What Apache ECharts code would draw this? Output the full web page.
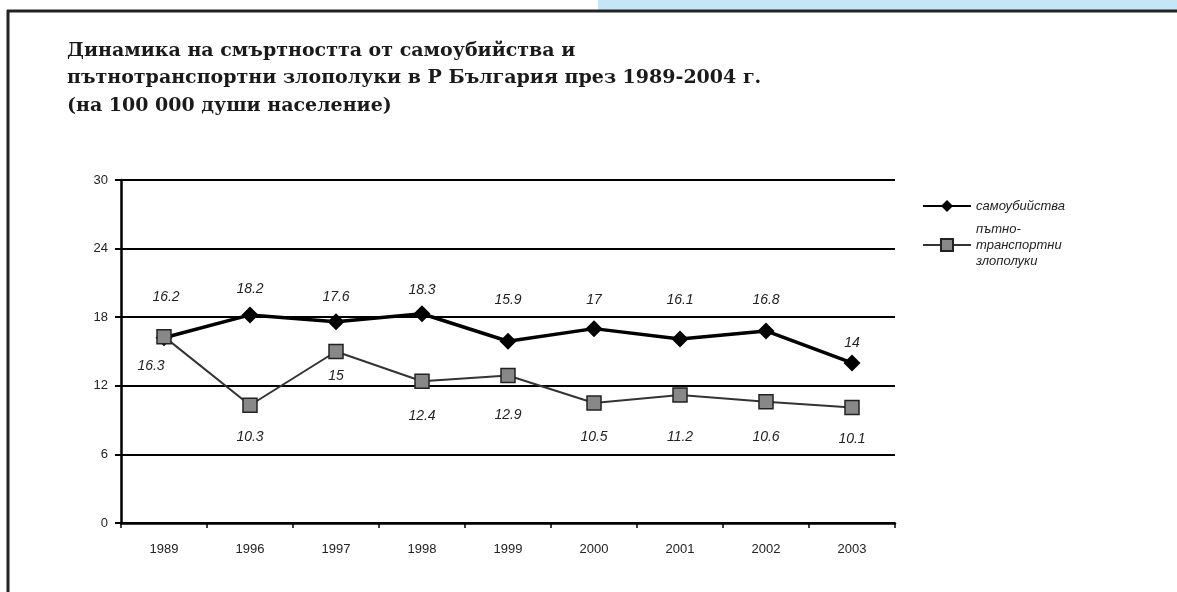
<!DOCTYPE html>
<html><head><meta charset="utf-8">
<script src="https://cdn.jsdelivr.net/npm/echarts@6/dist/echarts.min.js"></script>
<style>html,body{margin:0;padding:0;background:#fff}#c{width:1177px;height:592px}</style>
</head><body><div id="c"></div>
<script>
const categories = ['1989','1996','1997','1998','1999','2000','2001','2002','2003'];
const suicides = [16.2, 18.2, 17.6, 18.3, 15.9, 17, 16.1, 16.8, 14];
const roadAccidents = [16.3, 10.3, 15, 12.4, 12.9, 10.5, 11.2, 10.6, 10.1];
const yTicks = [0, 6, 12, 18, 24, 30];
// label placement (style only)
const suicideLabelOffsets = [[2,-41],[0,-26],[0,-25],[0,-24],[0,-41],[0,-29],[0,-39],[0,-31],[0,-20]];
const roadLabelOffsets = [[-13,29],[0,32],[0,25],[0,35],[0,40],[0,34],[0,42],[0,35],[0,32]];

const chart = echarts.init(document.getElementById('c'));
const labelFont = {fontFamily:'Liberation Sans, Arial, sans-serif', fontStyle:'italic', fontSize:14, color:'#222'};
function mk(vals, offs){
  return vals.map((v,i)=>({value:v, label:{show:true, position:'inside', offset:offs[i]}}));
}
chart.setOption({
  backgroundColor:'#fff',
  animation:false,
  title:{
    text:'Динамика на смъртността от самоубийства и\nпътнотранспортни злополуки в Р България през 1989-2004 г.\n(на 100 000 души население)',
    left:62, top:32,
    textStyle:{fontFamily:'DejaVu Serif, serif', fontWeight:'bold', fontSize:19, lineHeight:27.5, color:'#1a1a1a'}
  },
  legend:{
    orient:'vertical', left:917, top:193, itemWidth:48, itemHeight:15, itemGap:7,
    textStyle:{fontFamily:'Liberation Sans, Arial, sans-serif', fontStyle:'italic', fontSize:13, color:'#222', lineHeight:16},
    data:['самоубийства','пътно-\nтранспортни\nзлополуки']
  },
  grid:{left:121, right:282, top:180, bottom:69},
  xAxis:{
    type:'category', data:categories, boundaryGap:true,
    axisLine:{lineStyle:{color:'#000', width:2.5}},
    axisTick:{show:true, length:5, lineStyle:{color:'#000', width:1.5}},
    axisLabel:{margin:20, fontFamily:'Liberation Sans Narrow, Liberation Sans, Arial, sans-serif', fontSize:13, color:'#222'}
  },
  yAxis:{
    type:'value', min:yTicks[0], max:yTicks[yTicks.length-1], interval:6,
    axisLine:{show:true, lineStyle:{color:'#000', width:2.5}},
    axisTick:{show:true, length:6, lineStyle:{color:'#000', width:2}},
    axisLabel:{margin:13, fontFamily:'Liberation Sans, Arial, sans-serif', fontSize:13, color:'#222'},
    splitLine:{lineStyle:{color:'#000', width:2}}
  },
  series:[
    {name:'самоубийства', type:'line', data:mk(suicides, suicideLabelOffsets),
     symbol:'diamond', symbolSize:17,
     lineStyle:{color:'#000', width:3.5}, itemStyle:{color:'#000'},
     label:labelFont, z:3},
    {name:'пътно-\nтранспортни\nзлополуки', type:'line', data:mk(roadAccidents, roadLabelOffsets),
     symbol:'rect', symbolSize:14,
     lineStyle:{color:'#333', width:2}, itemStyle:{color:'#888', borderColor:'#222', borderWidth:1.5},
     label:labelFont, z:4}
  ],
  graphic:[
    {type:'rect', shape:{x:598, y:0, width:579, height:10}, style:{fill:'#c5e6f7'}, z:0},
    {type:'line', shape:{x1:7, y1:11, x2:1177, y2:11}, style:{stroke:'#222', lineWidth:3}},
    {type:'line', shape:{x1:8, y1:10, x2:8, y2:592}, style:{stroke:'#222', lineWidth:3}}
  ]
});
</script></body></html>
